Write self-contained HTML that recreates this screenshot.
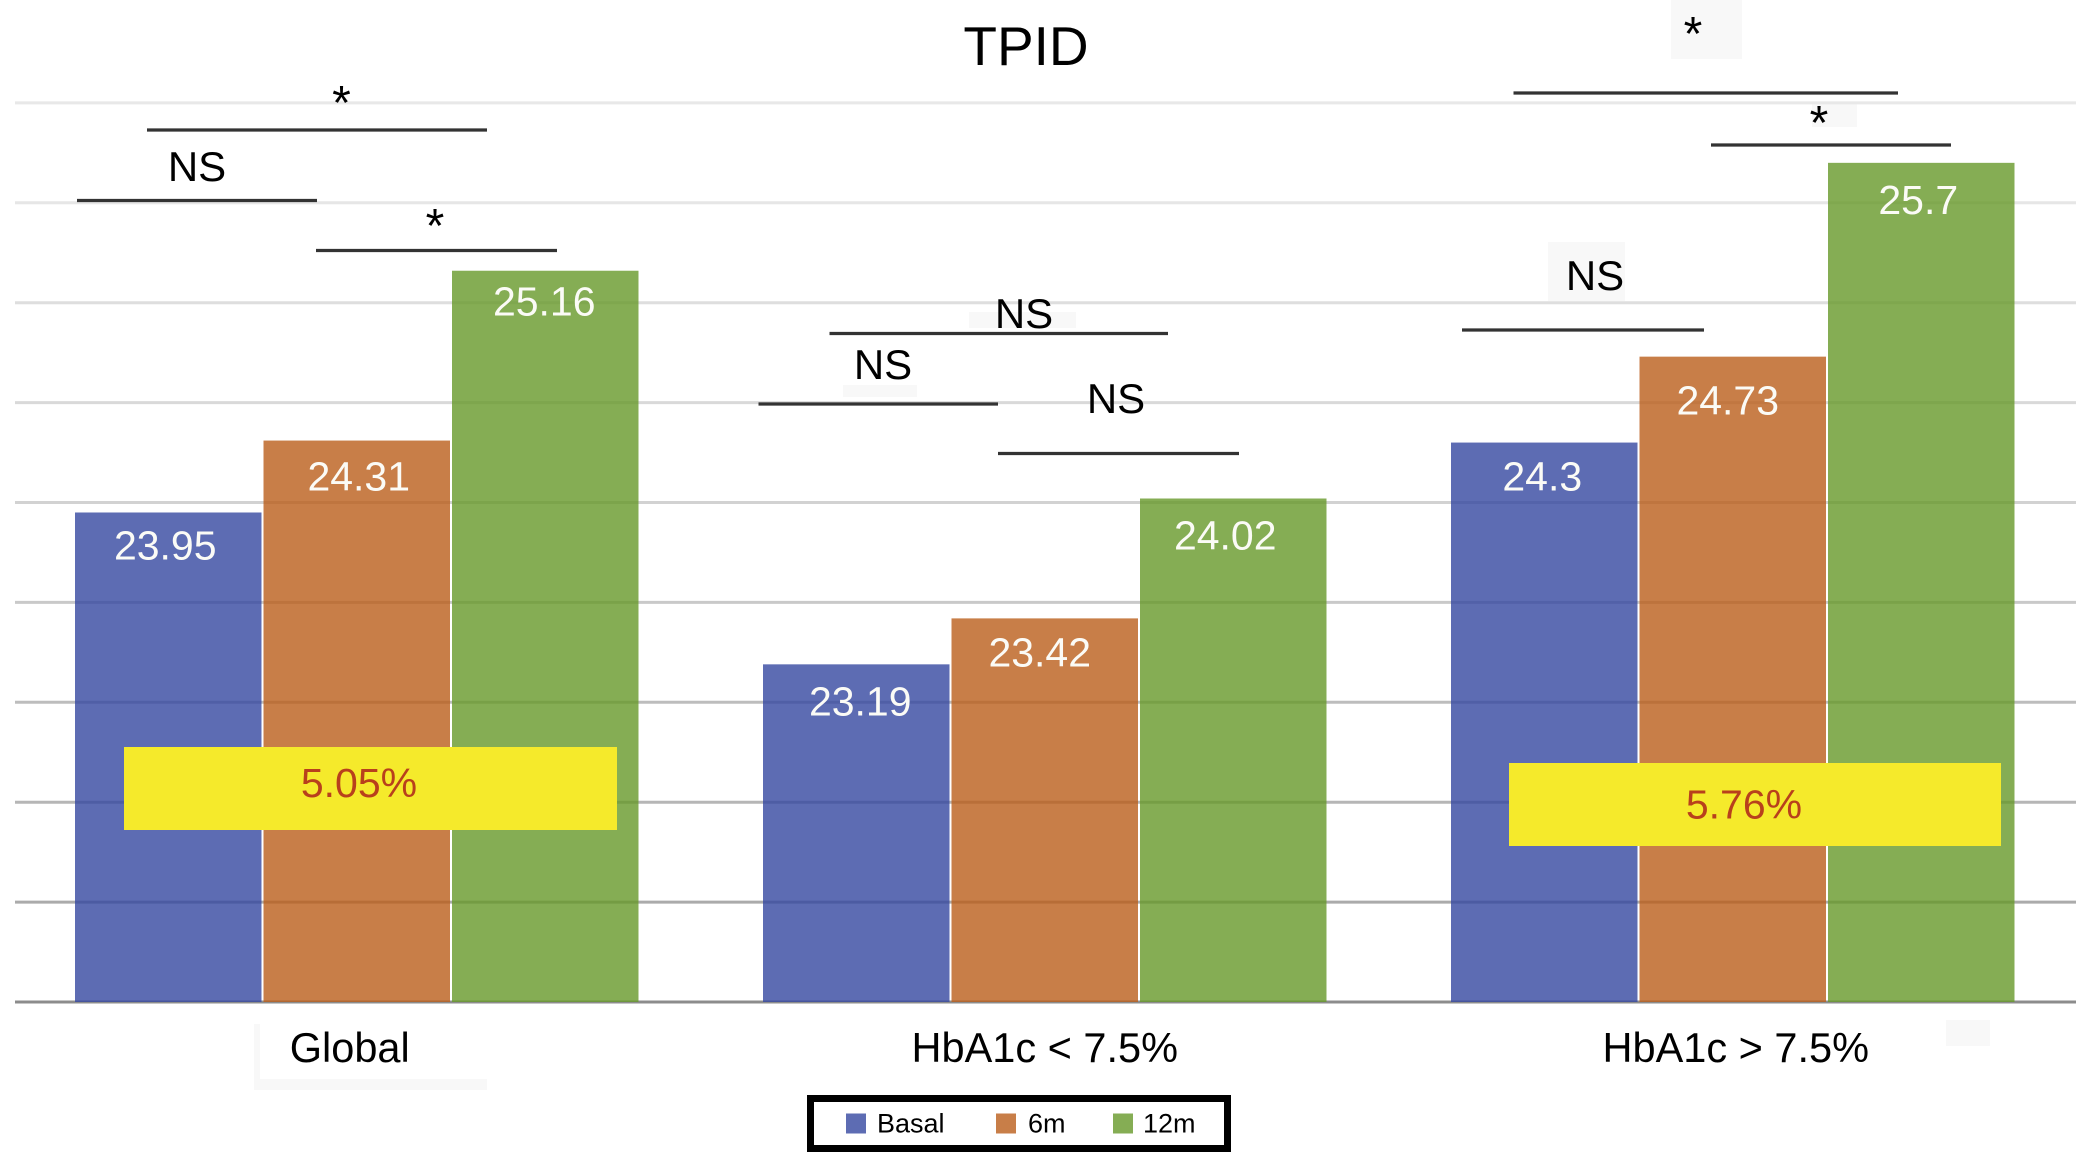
<!DOCTYPE html>
<html lang="en">
<head>
<meta charset="utf-8">
<title>TPID</title>
<style>
  html, body { margin: 0; padding: 0; background: #fff; }
  body { width: 2084px; height: 1152px; overflow: hidden; }
  svg { display: block; font-family: "Liberation Sans", Arial, sans-serif; }
</style>
</head>
<body>
<svg id="chart" xmlns="http://www.w3.org/2000/svg" width="2084" height="1152" viewBox="0 0 2084 1152">
  <rect x="0" y="0" width="2084" height="1152" fill="#ffffff"/>

  <g fill="#f8f8f8">
    <rect x="1671" y="0" width="71" height="59"/>
    <rect x="1812" y="103" width="45" height="24"/>
    <rect x="1548" y="242" width="77" height="59"/>
    <rect x="969" y="312" width="107" height="16"/>
    <rect x="843" y="385" width="74" height="12"/>
    <rect x="254" y="1079" width="233" height="11"/>
    <rect x="254" y="1024" width="6" height="66"/>
    <rect x="1946" y="1020" width="44" height="26"/>
  </g>

  <g id="grid"></g>
  <g id="bars"></g>
  <g id="labels"></g>
  <g id="xaxis"></g>

  <text x="1026" y="65" font-size="55" text-anchor="middle" fill="#000">TPID</text>

  <g stroke="#333" stroke-width="3.2">
    <line x1="147" y1="130" x2="487" y2="130"/>
    <line x1="77" y1="200.5" x2="317" y2="200.5"/>
    <line x1="316" y1="250.5" x2="557" y2="250.5"/>
    <line x1="829.5" y1="333.5" x2="1168" y2="333.5"/>
    <line x1="758.5" y1="404" x2="998" y2="404"/>
    <line x1="998" y1="453.5" x2="1239" y2="453.5"/>
    <line x1="1513.5" y1="93" x2="1898" y2="93"/>
    <line x1="1711" y1="145" x2="1951" y2="145"/>
    <line x1="1462" y1="330" x2="1704" y2="330"/>
  </g>

  <g fill="#000" text-anchor="middle">
    <text x="341.5" y="119" font-size="48">*</text>
    <text x="197" y="181" font-size="42">NS</text>
    <text x="435" y="242" font-size="48">*</text>
    <text x="1024" y="328" font-size="42">NS</text>
    <text x="883" y="379" font-size="42">NS</text>
    <text x="1116" y="413" font-size="42">NS</text>
    <text x="1693" y="50" font-size="48">*</text>
    <text x="1819" y="139" font-size="48">*</text>
    <text x="1595" y="290" font-size="42">NS</text>
  </g>

  <g>
    <rect x="124" y="747" width="493" height="83" fill="#f5ea2b"/>
    <text x="359" y="797" font-size="41" text-anchor="middle" fill="#b8401c">5.05%</text>
  </g>
  <g>
    <rect x="1509" y="763" width="492" height="83" fill="#f5ea2b"/>
    <text x="1744" y="818.5" font-size="41" text-anchor="middle" fill="#b8401c">5.76%</text>
  </g>

  <g>
    <rect x="810.5" y="1098.5" width="417" height="50" fill="#fff" stroke="#000" stroke-width="7"/>
    <g>
      <rect x="846" y="1113.5" width="20" height="20" fill="#5d6cb3"/>
      <text x="877" y="1132.5" font-size="27" fill="#000">Basal</text>
    </g>
    <g>
      <rect x="996" y="1113.5" width="20" height="20" fill="#c87e48"/>
      <text x="1028" y="1132.5" font-size="27" fill="#000">6m</text>
    </g>
    <g>
      <rect x="1113" y="1113.5" width="20" height="20" fill="#85ad54"/>
      <text x="1143" y="1132.5" font-size="27" fill="#000">12m</text>
    </g>
  </g>
</svg>

<script>
const categories = ["Global", "HbA1c < 7.5%", "HbA1c > 7.5%"];
const seriesNames = ["Basal", "6m", "12m"];
const basalValues = [23.95, 23.19, 24.3];
const sixMonthValues = [24.31, 23.42, 24.73];
const twelveMonthValues = [25.16, 24.02, 25.7];
const gridValues = [26, 25.5, 25, 24.5, 24, 23.5, 23, 22.5, 22];
const axisBaseValue = 21.5;

const seriesValues = [basalValues, sixMonthValues, twelveMonthValues];
const barFills = ["rgb(52,71,160)", "rgb(186,94,26)", "rgb(102,153,41)"];
const gridGrays = ["#e8e8e8", "#e6e6e6", "#dedede", "#d9d9d9", "#d2d2d2", "#c9c9c9", "#bdbdbd", "#b6b6b6", "#ababab"];
const labelNudgeX = [[-3, 2, -1], [4, -5, -8], [-2, -5, -3]];
const labelNudgeY = [[-1, 2, -3], [3, 0, 3], [0, 10, 3]];
const categoryNudgeX = [-7, 0, 3];

const svgNS = "http://www.w3.org/2000/svg";
const plotBottom = 1002;
const pxPerUnit = 199.8;
const firstGroupLeft = 75;
const groupStep = 688;
const barStep = 188.5;
const barGap = 2;

function yScale(value) {
  return plotBottom - (value - axisBaseValue) * pxPerUnit;
}
function groupLeft(groupIndex) {
  return firstGroupLeft + groupIndex * groupStep;
}
function barLeft(groupIndex, seriesIndex) {
  return groupLeft(groupIndex) + seriesIndex * barStep;
}
function slug(text) {
  return text.toLowerCase().replace(/[^a-z0-9]+/g, "-").replace(/^-|-$/g, "");
}

const gridLayer = document.getElementById("grid");
const barLayer = document.getElementById("bars");
const labelLayer = document.getElementById("labels");
const axisLayer = document.getElementById("xaxis");

gridValues.forEach(function (value, i) {
  const line = document.createElementNS(svgNS, "line");
  
  
  line.setAttribute("x1", 15);
  line.setAttribute("x2", 2076);
  line.setAttribute("y1", yScale(value));
  line.setAttribute("y2", yScale(value));
  line.setAttribute("stroke", gridGrays[i]);
  line.setAttribute("stroke-width", 3);
  gridLayer.appendChild(line);
});

const axisLine = document.createElementNS(svgNS, "line");


axisLine.setAttribute("x1", 15);
axisLine.setAttribute("x2", 2076);
axisLine.setAttribute("y1", yScale(axisBaseValue));
axisLine.setAttribute("y2", yScale(axisBaseValue));
axisLine.setAttribute("stroke", "#8c8c8c");
axisLine.setAttribute("stroke-width", 3);
gridLayer.appendChild(axisLine);

categories.forEach(function (category, g) {
  seriesValues.forEach(function (values, s) {
    const value = values[g];
    const x = barLeft(g, s);
    const top = yScale(value);

    const bar = document.createElementNS(svgNS, "rect");
    
    
    bar.setAttribute("x", x);
    bar.setAttribute("y", top);
    bar.setAttribute("width", barStep - barGap);
    bar.setAttribute("height", plotBottom - top);
    bar.setAttribute("fill", barFills[s]);
    bar.setAttribute("fill-opacity", 0.8);
    barLayer.appendChild(bar);

    const label = document.createElementNS(svgNS, "text");
    
    
    label.setAttribute("x", x + (barStep - barGap) / 2 + labelNudgeX[g][s]);
    label.setAttribute("y", top + 48 + labelNudgeY[g][s]);
    label.setAttribute("font-size", 41);
    label.setAttribute("text-anchor", "middle");
    label.setAttribute("fill", "#fbfbf6");
    label.textContent = String(value);
    labelLayer.appendChild(label);
  });

  const tick = document.createElementNS(svgNS, "text");
  
  
  tick.setAttribute("x", groupLeft(g) + (3 * barStep - barGap) / 2 + categoryNudgeX[g]);
  tick.setAttribute("y", 1062);
  tick.setAttribute("font-size", 41.5);
  tick.setAttribute("text-anchor", "middle");
  tick.setAttribute("fill", "#000");
  tick.textContent = category;
  axisLayer.appendChild(tick);
});
</script>
</body>
</html>
